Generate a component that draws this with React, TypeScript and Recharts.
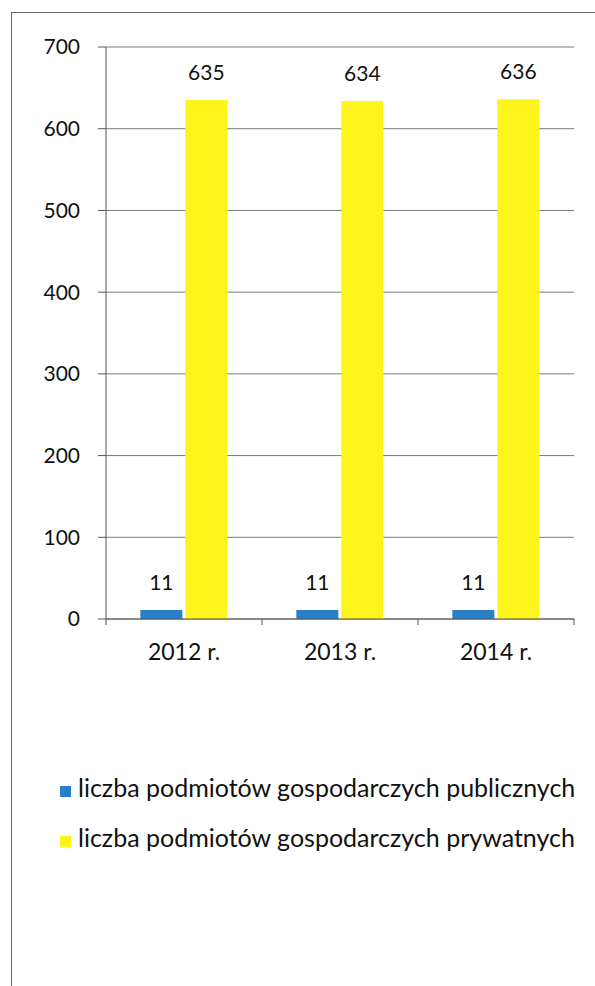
import { BarChart, Bar, XAxis, YAxis, CartesianGrid, Legend, LabelList } from 'recharts';

const years = ['2012 r.', '2013 r.', '2014 r.'];
const publicCounts = [11, 11, 11];
const privateCounts = [635, 634, 636];
const yTicks = [0, 100, 200, 300, 400, 500, 600, 700];
const publicName = 'liczba podmiotów gospodarczych publicznych';
const privateName = 'liczba podmiotów gospodarczych prywatnych';
const legendOrder = [publicName, privateName];

const data = years.map((year, i) => ({
  year,
  publiczne: publicCounts[i],
  prywatne: privateCounts[i],
}));

const FONT = 'Lato, "Open Sans", sans-serif';
const W = 595;
const H = 986;
const margin = { top: 47, right: 21, bottom: 337, left: 46 };
const yAxisWidth = 60;
const plotWidth = W - margin.left - margin.right - yAxisWidth;
const halfBand = plotWidth / years.length / 2;

const YearTick = (props: any) => {
  const { x, y, payload, index } = props;
  return (
    <g>
      {index === 0 && <line x1={x - halfBand} x2={x - halfBand} y1={y} y2={y + 6} stroke="#555" />}
      <line x1={x + halfBand} x2={x + halfBand} y1={y} y2={y + 6} stroke="#555" />
      <text x={x} y={y + 41} textAnchor="middle" fill="#111" fontSize={23} fontFamily={FONT}>
        {payload.value}
      </text>
    </g>
  );
};

const LegendContent = (props: any) => {
  const { payload = [] } = props;
  const items = [...payload].sort(
    (a: any, b: any) => legendOrder.indexOf(a.value) - legendOrder.indexOf(b.value)
  );
  return (
    <div style={{ fontFamily: FONT, fontSize: 25, color: '#111' }}>
      {items.map((entry: any) => (
        <div key={entry.value} style={{ display: 'flex', alignItems: 'center', height: 50, whiteSpace: 'nowrap' }}>
          <span
            style={{
              display: 'inline-block',
              width: 11,
              height: 11,
              background: entry.color,
              marginRight: 7,
              position: 'relative',
              top: 4,
            }}
          />
          {entry.value}
        </div>
      ))}
    </div>
  );
};

const App = () => (
  <div style={{ position: 'absolute', left: 0, top: 0, width: W, height: H, background: '#fff' }}>
    <div
      style={{
        position: 'absolute',
        left: 11,
        top: 12,
        right: 0,
        bottom: 0,
        borderTop: '1px solid #666',
        borderLeft: '1px solid #666',
      }}
    />
    <div style={{ position: 'absolute', left: 0, top: 0 }}>
      <BarChart
        width={W}
        height={H}
        data={data}
        margin={margin}
        barCategoryGap="22%"
        barGap={3}
      >
        <CartesianGrid horizontal vertical={false} stroke="#7a7a7a" />
        <XAxis
          dataKey="year"
          tick={<YearTick />}
          tickLine={false}
          tickSize={0}
          tickMargin={0}
          axisLine={{ stroke: '#555' }}
          interval={0}
          height={30}
        />
        <YAxis
          domain={[0, 700]}
          ticks={yTicks}
          width={yAxisWidth}
          tickSize={8}
          tickMargin={18}
          axisLine={{ stroke: '#555' }}
          tickLine={{ stroke: '#555' }}
          tick={{ fill: '#111', fontSize: 21, fontFamily: FONT }}
        />
        <Legend
          layout="horizontal"
          verticalAlign="middle"
          align="center"
          content={<LegendContent />}
          wrapperStyle={{ top: 762, left: 60, width: 'auto' }}
        />
        <Bar dataKey="publiczne" name={publicName} fill="#2a80c6" isAnimationActive={false}>
          <LabelList dataKey="publiczne" position="top" offset={20} fill="#111" fontSize={21} fontFamily={FONT} />
        </Bar>
        <Bar dataKey="prywatne" name={privateName} fill="#fdf41c" isAnimationActive={false}>
          <LabelList dataKey="prywatne" position="top" offset={20} fill="#111" fontSize={21} fontFamily={FONT} />
        </Bar>
      </BarChart>
    </div>
  </div>
);

export default App;
